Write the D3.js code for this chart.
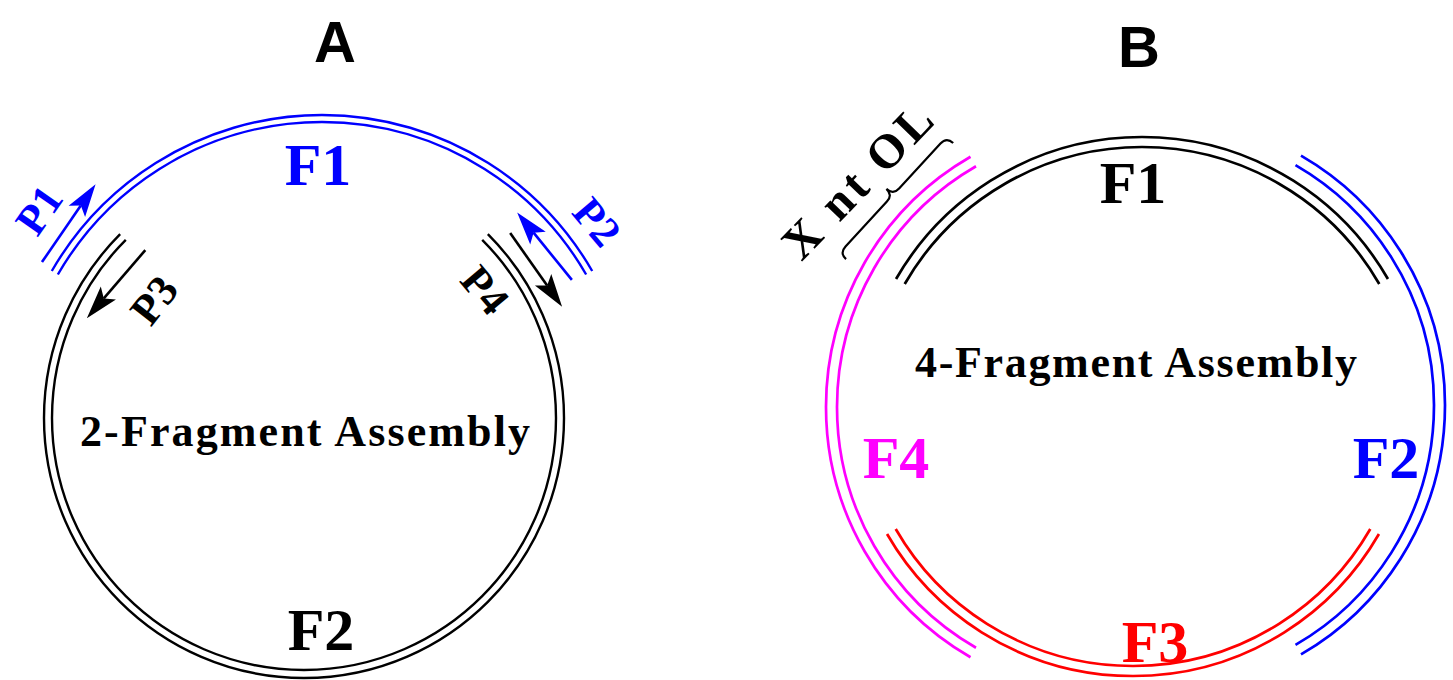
<!DOCTYPE html>
<html><head><meta charset="utf-8">
<script src="https://cdn.jsdelivr.net/npm/d3@7"></script>
<style>html,body{margin:0;padding:0;background:#fff;}svg{display:block;}</style>
</head><body>
<script>
// ---------------- data ----------------
const panelTitles = ["A", "B"];
const assemblyLabels = ["2-Fragment Assembly", "4-Fragment Assembly"];
// panel A fragments: angular span (degrees, screen coords, 0 = right, clockwise)
const fragNamesA = ["F1", "F2"];
const fragSpanA = [[-150, -30], [-45, 225]];
// panel B fragments
const fragNamesB = ["F1", "F2", "F3", "F4"];
const fragSpanB = [[-150, -30], [-60, 60], [30, 150], [120, 240]];
// primers in panel A: [from, to] angles (arrow points to "to")
const primerNames = ["P1", "P2", "P3", "P4"];
const primerSpan = [[-149.5, -133], [-30.5, -47.7], [-133.4, -155.3], [-41.9, -23.3]];
const overlapLabel = "X nt OL";

// ---------------- styles / layout ----------------
const W = 1453, H = 680;
const colA = {F1: "#0000ff", F2: "#000000"};
const colB = {F1: "#000000", F2: "#0000ff", F3: "#ff0000", F4: "#ff00ff"};
const primerCol = {P1: "#0000ff", P2: "#0000ff", P3: "#000000", P4: "#000000"};
const serif = "'Liberation Serif','Times New Roman',serif";
const sans = "'Liberation Sans',Arial,sans-serif";

const geomA = {
  F1: {cx: 322, cy: 427, r: [312, 305]},
  F2: {cx: 304, cy: 418, r: [260, 252]}
};
const geomB = {
  F1: {cx: 1142, cy: 421, r: [284, 274]},
  F2: {cx: 1157, cy: 405, r: [288, 277]},
  F3: {cx: 1133, cy: 392, r: [284, 274]},
  F4: {cx: 1115, cy: 407, r: [289, 278]}
};
// primer placement: which circle and radius at start/end
const primerGeom = {
  P1: {on: "F1", r: [325, 332]},
  P2: {on: "F1", r: [290, 290]},
  P3: {on: "F2", r: [231, 239]},
  P4: {on: "F2", r: [277, 281]}
};

const ang = d3.scaleLinear().domain([0, 360]).range([0, 2 * Math.PI]);
const pt = (g, r, deg) => [g.cx + r * Math.cos(ang(deg)), g.cy + r * Math.sin(ang(deg))];

const svg = d3.select("body").append("svg").attr("width", W).attr("height", H)
  .attr("viewBox", `0 0 ${W} ${H}`);

function arcPath(g, r, span) {
  const p = d3.path();
  const [x0, y0] = pt(g, r, span[0]);
  p.moveTo(x0, y0);
  p.arc(g.cx, g.cy, r, ang(span[0]), ang(span[1]), false);
  return p.toString();
}

function drawFrags(names, spans, geom, cols, sw) {
  names.forEach((n, i) => {
    const g = geom[n];
    g.r.forEach(r => {
      svg.append("path").attr("d", arcPath(g, r, spans[i]))
        .attr("fill", "none").attr("stroke", cols[n]).attr("stroke-width", sw);
    });
  });
}
drawFrags(fragNamesA, fragSpanA, geomA, colA, 2.4);
drawFrags(fragNamesB, fragSpanB, geomB, colB, 2.7);

// primers (arrows)
primerNames.forEach((n, i) => {
  const pg = primerGeom[n];
  const g = geomA[pg.on];
  const s = pt(g, pg.r[0], primerSpan[i][0]);
  const t = pt(g, pg.r[1], primerSpan[i][1]);
  const dx = t[0] - s[0], dy = t[1] - s[1];
  const len = Math.hypot(dx, dy);
  const ux = dx / len, uy = dy / len, nx = -uy, ny = ux;
  const L = 33, Wd = 20, notch = 7;
  const bx = t[0] - L * ux, by = t[1] - L * uy;
  const mx = t[0] - (L - notch) * ux, my = t[1] - (L - notch) * uy;
  svg.append("line").attr("x1", s[0]).attr("y1", s[1]).attr("x2", mx).attr("y2", my)
    .attr("stroke", primerCol[n]).attr("stroke-width", 2.6);
  svg.append("path")
    .attr("d", `M${t[0]},${t[1]}L${bx + nx * Wd / 2},${by + ny * Wd / 2}L${mx},${my}L${bx - nx * Wd / 2},${by - ny * Wd / 2}Z`)
    .attr("fill", primerCol[n]);
});

// primer labels
const primerLabelPos = {P1: [39, 210, -55], P2: [597, 222, 50], P3: [154, 300, -52], P4: [485, 290, 50]};
primerNames.forEach(n => {
  const [x, y, rot] = primerLabelPos[n];
  svg.append("text").attr("transform", `translate(${x},${y}) rotate(${rot})`)
    .attr("text-anchor", "middle").attr("dominant-baseline", "central")
    .attr("font-family", serif).attr("font-weight", "bold").attr("font-size", 43)
    .attr("fill", primerCol[n]).text(n);
});

// titles
const titlePos = [[335, 62], [1139, 67]];
panelTitles.forEach((t, i) => {
  svg.append("text").attr("x", titlePos[i][0]).attr("y", titlePos[i][1])
    .attr("text-anchor", "middle").attr("font-family", sans).attr("font-weight", "bold")
    .attr("font-size", 58).attr("fill", "#000").text(t);
});

// fragment labels
const fragLabelPosA = {F1: [318, 185], F2: [321, 650]};
const fragLabelPosB = {F1: [1133, 203], F2: [1386, 478], F3: [1155, 662], F4: [896, 478]};
function fragLabels(names, pos, cols) {
  names.forEach(n => {
    svg.append("text").attr("x", pos[n][0]).attr("y", pos[n][1])
      .attr("text-anchor", "middle").attr("font-family", serif).attr("font-weight", "bold")
      .attr("font-size", 60).attr("fill", cols[n]).text(n);
  });
}
fragLabels(fragNamesA, fragLabelPosA, colA);
fragLabels(fragNamesB, fragLabelPosB, colB);

// assembly labels
const asmPos = [[305, 446, 450], [1136, 377, 442]];
assemblyLabels.forEach((t, i) => {
  const [x, y, w] = asmPos[i];
  svg.append("text").attr("x", x - w / 2).attr("y", y)
    .attr("textLength", w).attr("lengthAdjust", "spacing")
    .attr("font-family", serif).attr("font-weight", "bold").attr("font-size", 44)
    .attr("fill", "#000").text(t);
});

// overlap label + brace
const ol = svg.append("g").attr("transform", "translate(857,181) rotate(-46)");
ol.append("text").attr("x", -97).attr("y", 0).attr("dominant-baseline", "central")
  .attr("textLength", 194).attr("lengthAdjust", "spacing")
  .attr("font-family", serif).attr("font-weight", "bold").attr("font-size", 48)
  .attr("fill", "#000").text(overlapLabel);
const br = svg.append("g").attr("transform", "translate(893,195) rotate(-47.3)");
const h = 79, d = 9;
br.append("path")
  .attr("d", `M${-h},${d} Q${-h},0 ${-h + d},0 L${-d},0 Q0,0 0,${-d} Q0,0 ${d},0 L${h - d},0 Q${h},0 ${h},${d}`)
  .attr("fill", "none").attr("stroke", "#000").attr("stroke-width", 2.2);
</script>
</body></html>
